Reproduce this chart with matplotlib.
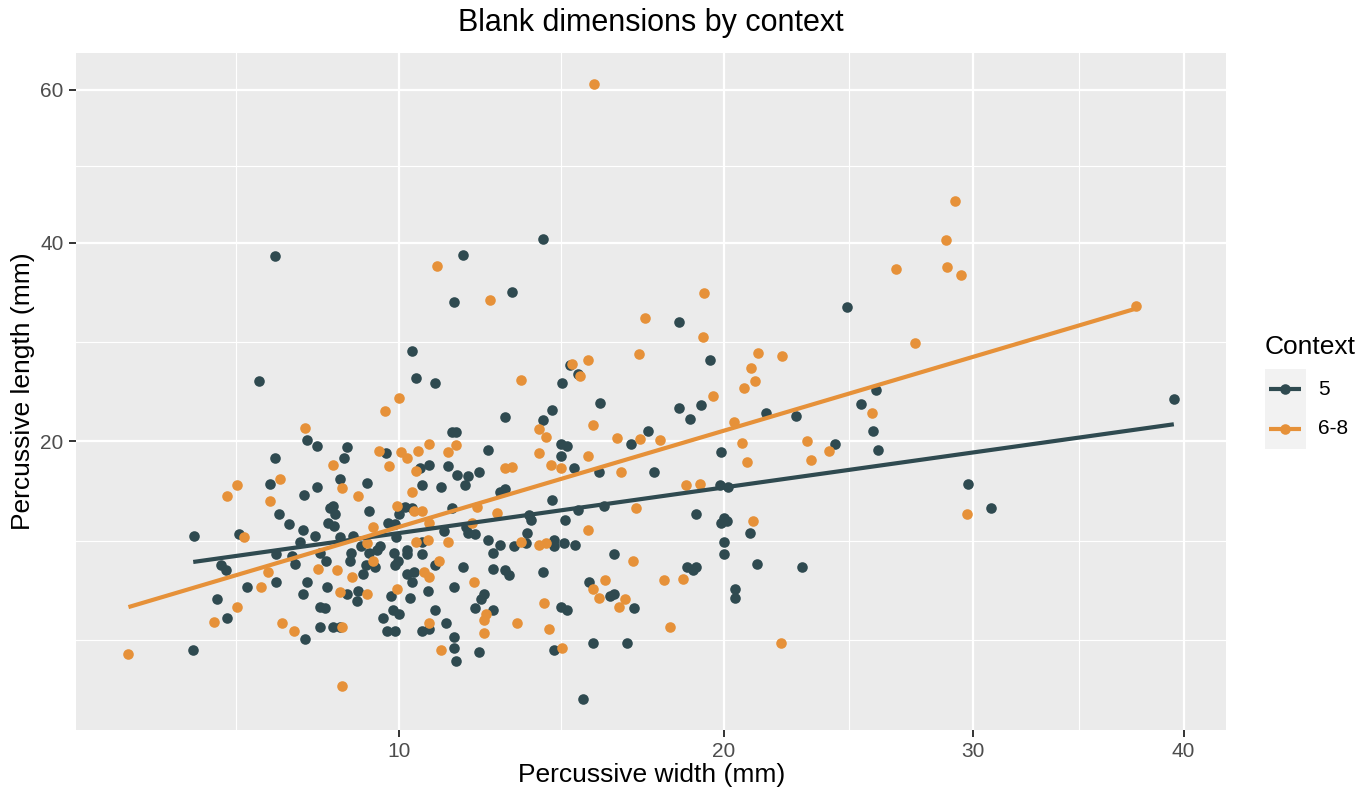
import numpy as np
import matplotlib
matplotlib.use("Agg")
import matplotlib.pyplot as plt
from matplotlib.lines import Line2D
from matplotlib.patches import Rectangle

# Blank width / length (mm), context 5
dark_w = [6.76,7.81,8.03,8.72,8.66,7.10,9.68,8.57,9.22,7.00,8.02,7.73,8.39,8.33,8.44,9.26,7.19,7.41,8.29,8.41,
          7.70,9.74,9.91,10.02,10.17,5.47,6.35,7.97,8.57,8.86,9.94,7.65,7.47,7.53,7.12,5.99,6.09,6.50,7.12,7.81,
          7.71,8.10,8.23,8.26,8.82,8.80,9.06,9.26,9.45,9.54,9.18,9.12,9.40,8.72,8.99,8.96,9.89,9.98,
          9.90,10.20,10.20,10.20,9.80,10.30,5.90,6.10,8.10,8.20,8.10,8.40,8.55,7.75,5.45,9.60,9.85,10.00,9.70,9.90,
          10.35,10.45,10.95,14.85,15.10,14.60,15.80,19.50,14.30,14.00,12.90,18.40,18.80,19.20,11.40,11.50,12.40,14.55,14.75,14.55,
          17.35,16.80,19.90,10.80,10.55,11.30,11.55,11.85,11.75,12.15,10.60,11.10,14.95,15.75,17.55,12.90,12.75,14.30,11.40,10.35,
          15.10,15.90,13.60,13.65,14.70,19.00,19.85,20.15,20.00,20.10,19.90,11.20,11.80,11.85,12.05,13.55,20.95,12.40,12.75,13.15,
          13.50,14.35,14.35,14.65,15.00,10.60,10.60,12.55,10.95,11.70,12.55,12.90,13.00,14.00,10.40,10.35,10.75,11.45,12.30,12.20,
          12.05,12.55,10.95,11.25,10.60,10.80,11.45,11.45,11.50,12.15,14.35,14.55,14.75,15.55,16.65,15.25,15.45,16.10,16.25,16.90,
          16.25,18.70,18.90,19.00,20.00,20.00,20.40,20.40,21.20,21.55,22.70,25.25,25.85,25.75,25.95,24.20,39.50,29.75,30.80,22.90,
          7.10,11.70,11.45,13.10,14.00,18.40,24.70]
dark_l = [25.3,20.1,19.6,19.5,18.6,18.6,19.0,17.0,16.7,16.6,16.4,15.8,15.0,14.8,14.4,14.6,14.4,13.7,13.8,13.6,
          13.3,13.8,13.7,14.4,14.9,12.9,13.0,12.9,12.8,12.9,12.8,12.5,11.6,11.1,11.7,11.0,10.7,9.7,10.0,10.0,
          9.3,11.8,11.3,9.7,11.8,11.3,12.2,11.8,12.0,12.2,11.0,10.5,10.9,9.3,9.5,8.9,11.8,11.3,11.0,12.0,
          11.7,10.5,9.2,9.1,9.0,8.0,8.6,8.5,7.5,7.5,7.5,6.9,6.4,8.0,8.4,8.2,7.3,7.3,28.2,25.6,
          25.2,26.9,26.0,25.2,23.3,27.4,22.7,21.8,22.1,22.9,21.9,23.1,20.8,20.8,19.3,19.8,19.6,18.8,20.9,19.8,
          19.1,18.1,17.8,18.0,17.3,17.2,16.5,17.5,16.5,16.4,17.8,17.5,17.5,16.2,16.0,15.4,14.8,14.8,14.7,15.0,
          14.3,14.0,14.0,14.4,16.5,16.4,14.1,13.9,13.8,13.2,13.5,13.1,13.0,13.1,13.1,12.6,12.3,12.2,12.4,12.6,
          12.2,12.4,12.3,12.5,11.7,11.8,11.0,10.9,10.8,10.7,10.4,10.6,10.6,10.0,9.5,9.7,9.3,9.0,8.5,8.4,
          8.4,7.7,7.3,7.4,7.0,6.5,5.9,6.3,6.4,8.6,8.4,6.7,6.7,4.3,10.0,9.2,9.3,8.5,11.7,10.9,
          10.7,10.9,12.5,11.7,9.6,9.1,11.1,22.4,22.2,23.2,24.5,20.9,19.3,19.8,23.7,16.6,14.8,10.9,38.4,38.5,
          33.3,34.4,40.4,31.2,32.8]

# Blank width / length (mm), context 6-8
orange_w = [10.00,9.65,7.75,9.50,10.05,10.20,9.75,8.40,7.20,6.30,6.10,8.60,9.00,7.00,9.95,9.35,6.45,9.20,9.35,6.95,
            6.80,8.05,8.50,8.85,8.55,9.20,9.95,6.30,5.85,7.25,7.50,8.60,4.30,8.60,13.35,14.90,15.40,15.15,17.05,21.25,
            21.00,21.15,20.75,19.60,15.55,13.90,14.10,16.35,17.10,17.75,20.35,20.65,20.85,10.50,10.80,11.30,11.50,10.45,10.35,13.90,
            14.25,14.55,15.40,12.90,13.10,16.45,18.65,19.15,10.40,10.60,10.80,12.10,12.65,11.95,16.95,15.40,21.05,10.45,10.75,11.30,
            13.35,13.90,14.10,11.05,10.65,10.80,12.00,10.80,11.10,12.35,12.30,12.30,13.25,14.05,14.20,14.60,15.95,15.55,15.75,16.60,
            16.40,16.85,17.90,18.55,18.10,22.15,27.50,25.70,23.10,23.25,23.95,29.70,22.10,15.60,11.00,12.45,17.25,19.30,19.25,29.20,
            28.80,26.70,28.85,29.45,37.60]
orange_l = [23.8,22.6,21.1,19.2,19.1,18.6,18.0,18.1,17.0,16.5,15.7,16.3,15.7,15.3,15.0,13.5,12.8,12.4,11.3,10.6,
            9.7,10.8,10.7,10.3,9.4,9.3,9.6,8.6,7.8,7.7,7.3,7.5,6.2,4.8,25.4,27.0,27.4,25.8,27.9,28.0,
            26.6,25.3,24.7,24.0,21.4,21.0,20.4,20.3,20.2,20.1,21.6,19.9,18.3,19.2,19.8,19.1,19.7,17.6,16.0,19.0,
            18.1,17.8,18.8,17.8,17.9,17.5,16.5,16.6,14.6,14.6,13.8,14.9,14.5,13.8,14.8,13.3,13.9,12.5,12.6,12.5,
            12.5,12.3,12.4,11.3,10.6,10.3,10.0,7.7,6.4,8.2,7.9,7.2,7.7,8.8,7.4,6.5,10.1,9.6,9.1,9.0,
            8.6,11.3,10.1,10.2,7.5,27.7,29.0,22.4,20.0,18.5,19.2,14.4,6.7,60.9,37.3,33.5,31.6,34.3,29.6,45.0,
            40.3,36.9,37.2,36.3,32.9]

groups = ["5", "6-8"]
colors = ["#2F4A50", "#E69139"]
xmajor = [10, 20, 30, 40]
ymajor = [20, 40, 60]

widths = [np.array(dark_w), np.array(orange_w)]
lengths = [np.array(dark_l), np.array(orange_l)]

W, H = 1367, 788
plt.rcParams['font.family'] = ['Liberation Sans', 'DejaVu Sans']
fig = plt.figure(figsize=(W / 100, H / 100), dpi=100)

# panel box in pixels
left, right, top, bottom = 76.2, 1226.1, 53.0, 729.5
ax = fig.add_axes([left / W, 1 - bottom / H, (right - left) / W, (bottom - top) / H])
ax.set_facecolor('#EBEBEB')
for sp in ax.spines.values():
    sp.set_visible(False)

sq = (lambda v: np.sqrt(np.clip(v, 0, None)), lambda v: np.square(v))
ax.set_xscale('function', functions=sq)
ax.set_yscale('function', functions=sq)


def expand(vals):
    # 5% padding on the sqrt scale
    s = np.sqrt(np.concatenate(vals))
    lo, hi = s.min(), s.max()
    pad = 0.05 * (hi - lo)
    return (lo - pad) ** 2, (hi + pad) ** 2


def minor_breaks(major, lim):
    # midpoints between majors in sqrt space, extended one step each side
    b = np.sqrt([m for m in major if lim[0] <= m <= lim[1]])
    bd = b[1] - b[0]
    lo, hi = np.sqrt(lim)
    if lo < b[0]:
        b = np.concatenate([[b[0] - bd], b])
    if hi > b[-1]:
        b = np.concatenate([b, [b[-1] + bd]])
    mids = (b[:-1] + b[1:]) / 2
    allb = np.concatenate([b, mids]) ** 2
    return [v for v in allb if lim[0] <= v <= lim[1] and not np.isclose(v, major).any()]


xlim = expand(widths)
ylim = expand(lengths)
ax.set_xlim(xlim)
ax.set_ylim(ylim)
ax.set_xticks(xmajor)
ax.set_yticks(ymajor)
ax.set_xticks(minor_breaks(xmajor, xlim), minor=True)
ax.set_yticks(minor_breaks(ymajor, ylim), minor=True)
ax.tick_params(which='minor', length=0)
ax.tick_params(which='major', length=5, width=1.4, color='#333333',
               labelsize=15, labelcolor='#4D4D4D', pad=4)
ax.grid(which='major', color='white', linewidth=1.6)
ax.grid(which='minor', color='white', linewidth=0.8)
ax.set_axisbelow(True)

for w, l, c in zip(widths, lengths, colors):
    ax.scatter(w, l, s=58, color=c, linewidths=0, zorder=3)
    # linear fit on the sqrt-transformed values
    sw, sl = np.sqrt(w), np.sqrt(l)
    k, b0 = np.polyfit(sw, sl, 1)
    xs = np.linspace(sw.min(), sw.max(), 80)
    ax.plot(xs ** 2, (k * xs + b0) ** 2, color=c, linewidth=3, zorder=4,
            solid_capstyle='butt')

ax.set_xlabel("Percussive width (mm)", fontsize=19, labelpad=1.5)
ax.set_ylabel("Percussive length (mm)", fontsize=19, labelpad=3.5)
fig.text((left + right) / 2 / W, 1 - 23 / H, "Blank dimensions by context",
         fontsize=22, ha='center', va='center')

# legend drawn by hand, ggplot style
fig.text(1265 / W, 1 - 347 / H, "Context", fontsize=19, ha='left', va='center')
fig.add_artist(Rectangle((1265 / W, 1 - 448.5 / H), 40.5 / W, 79.5 / H,
                         transform=fig.transFigure, facecolor='#F2F2F2',
                         edgecolor='none'))
for lab, c, yk in zip(groups, colors, [389, 428.5]):
    fig.add_artist(Line2D([1269 / W, 1301 / W], [1 - yk / H] * 2, color=c,
                          linewidth=3, transform=fig.transFigure,
                          solid_capstyle='butt'))
    fig.add_artist(Line2D([1285 / W], [1 - yk / H], color=c, marker='o',
                          markersize=7.6, markeredgewidth=0,
                          transform=fig.transFigure))
    fig.text(1318 / W, 1 - yk / H, lab, fontsize=15, ha='left', va='center')

fig.savefig("out.png", dpi=100, facecolor='white')
